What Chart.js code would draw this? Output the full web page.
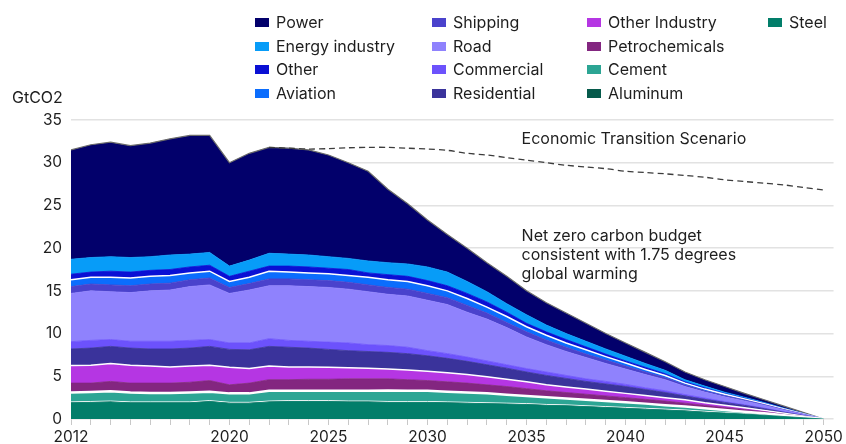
<!DOCTYPE html>
<html>
<head>
<meta charset="utf-8">
<title>Emissions by sector</title>
<script src="https://cdn.jsdelivr.net/npm/chart.js@4.4.1/dist/chart.umd.min.js"></script>
<style>
  body { margin: 0; background: #fff; font-family: Inter, "Open Sans", sans-serif; color: #1e1e1e; }
  #wrap { position: relative; width: 846px; height: 444px; overflow: hidden; }
  #chart { position: absolute; left: 0; top: 0; }
  .unit { position: absolute; left: 12px; top: 87px; font-size: 16px; }
  .legend-item { position: absolute; display: flex; align-items: center; height: 20px; font-size: 16px; white-space: nowrap; }
  .legend-item i { display: inline-block; width: 14px; height: 9px; margin-right: 7px; }
</style>
</head>
<body>
<div id="wrap">
  <canvas id="chart" width="846" height="444"></canvas>
  <div class="unit">GtCO2</div>
  <div id="legend"></div>
</div>
<script>
"use strict";

// ── Data (GtCO2, net zero pathway by sector) ──
const years = [2012, 2013, 2014, 2015, 2016, 2017, 2018, 2019, 2020, 2021,
               2022, 2023, 2024, 2025, 2026, 2027, 2028, 2029, 2030, 2031,
               2032, 2033, 2034, 2035, 2036, 2037, 2038, 2039, 2040, 2041,
               2042, 2043, 2044, 2045, 2046, 2047, 2048, 2049, 2050];
const labelYears = [2012, 2020, 2025, 2030, 2035, 2040, 2045, 2050];

const steel = [1.9, 1.95, 2.0, 1.9, 1.9, 1.9, 1.9, 2.05, 1.85, 1.85,
               2.0, 2.05, 2.05, 2.05, 2.0, 2.0, 1.95, 1.95, 1.95, 1.9,
               1.85, 1.8, 1.75, 1.7, 1.6, 1.55, 1.45, 1.35, 1.25, 1.15,
               1.05, 0.95, 0.8, 0.7, 0.58, 0.44, 0.29, 0.14, 0];
const aluminum = [0.1, 0.1, 0.1, 0.1, 0.1, 0.1, 0.1, 0.1, 0.1, 0.1,
                  0.1, 0.1, 0.1, 0.1, 0.1, 0.1, 0.1, 0.1, 0.1, 0.1,
                  0.1, 0.1, 0.1, 0.1, 0.1, 0.1, 0.1, 0.1, 0.1, 0.1,
                  0.1, 0.1, 0.1, 0.07, 0.06, 0.05, 0.03, 0.02, 0];
const cement = [1.1, 1.1, 1.15, 1.1, 1.05, 1.05, 1.1, 1.05, 1.05, 1.05,
                1.2, 1.15, 1.15, 1.15, 1.2, 1.2, 1.3, 1.25, 1.25, 1.2,
                1.15, 1.1, 1.0, 0.9, 0.85, 0.75, 0.7, 0.65, 0.6, 0.55,
                0.45, 0.4, 0.35, 0.27, 0.22, 0.17, 0.11, 0.06, 0];
const petrochemicals = [1.1, 1.05, 1.15, 1.1, 1.15, 1.15, 1.2, 1.3, 1.0, 1.2,
                        1.3, 1.3, 1.35, 1.35, 1.4, 1.4, 1.35, 1.3, 1.2, 1.15,
                        1.1, 1.0, 0.95, 0.85, 0.75, 0.7, 0.65, 0.6, 0.55, 0.5,
                        0.5, 0.4, 0.35, 0.3, 0.24, 0.18, 0.12, 0.06, 0];
const otherIndustry = [2.05, 2.1, 2.1, 2.1, 2.0, 1.9, 1.9, 1.8, 2.05, 1.7,
                       1.6, 1.5, 1.45, 1.4, 1.3, 1.25, 1.15, 1.15, 1.1, 1.05,
                       1.0, 0.95, 0.85, 0.8, 0.7, 0.65, 0.6, 0.55, 0.5, 0.45,
                       0.4, 0.4, 0.3, 0.27, 0.22, 0.17, 0.11, 0.05, 0];
const residential = [1.95, 2.0, 2.0, 2.0, 2.0, 2.1, 2.1, 2.2, 2.1, 2.2,
                     2.3, 2.3, 2.2, 2.1, 2.0, 1.95, 1.95, 1.9, 1.8, 1.7,
                     1.55, 1.4, 1.3, 1.15, 1.1, 1.0, 0.9, 0.85, 0.8, 0.7,
                     0.6, 0.45, 0.4, 0.33, 0.27, 0.2, 0.13, 0.07, 0];
const commercial = [0.85, 0.9, 0.8, 0.8, 0.9, 0.9, 0.9, 0.8, 0.75, 0.8,
                    0.9, 0.8, 0.8, 0.85, 0.9, 0.8, 0.8, 0.75, 0.6, 0.55,
                    0.5, 0.45, 0.4, 0.4, 0.4, 0.35, 0.3, 0.3, 0.25, 0.2,
                    0.2, 0.15, 0.15, 0.1, 0.08, 0.06, 0.04, 0.02, 0];
const road = [5.65, 5.8, 5.6, 5.7, 5.9, 6.0, 6.3, 6.4, 5.8, 6.2,
              6.2, 6.4, 6.4, 6.4, 6.3, 6.2, 6.0, 6.0, 5.9, 5.75,
              5.25, 4.9, 4.35, 3.7, 3.2, 2.8, 2.5, 2.1, 1.8, 1.55,
              1.3, 0.95, 0.7, 0.55, 0.44, 0.33, 0.22, 0.11, 0];
const shipping = [0.8, 0.8, 0.8, 0.8, 0.8, 0.8, 0.8, 0.8, 0.7, 0.75,
                  0.8, 0.8, 0.8, 0.8, 0.8, 0.8, 0.8, 0.8, 0.8, 0.8,
                  0.8, 0.7, 0.6, 0.6, 0.55, 0.5, 0.4, 0.4, 0.35, 0.3,
                  0.25, 0.2, 0.15, 0.15, 0.12, 0.09, 0.06, 0.03, 0];
const aviation = [0.8, 0.8, 0.9, 0.9, 0.9, 0.9, 0.8, 0.8, 0.7, 0.75,
                  0.9, 0.8, 0.8, 0.8, 0.8, 0.9, 0.9, 0.9, 0.9, 0.8,
                  0.8, 0.7, 0.7, 0.6, 0.55, 0.5, 0.5, 0.4, 0.35, 0.3,
                  0.25, 0.2, 0.2, 0.15, 0.12, 0.09, 0.06, 0.03, 0];
const other = [0.65, 0.6, 0.7, 0.7, 0.7, 0.7, 0.7, 0.7, 0.6, 0.7,
               0.6, 0.7, 0.7, 0.65, 0.7, 0.5, 0.6, 0.6, 0.6, 0.6,
               0.6, 0.6, 0.5, 0.4, 0.4, 0.4, 0.35, 0.3, 0.25, 0.25,
               0.2, 0.15, 0.15, 0.1, 0.08, 0.06, 0.04, 0.02, 0];
const energyIndustry = [1.75, 1.7, 1.7, 1.7, 1.6, 1.7, 1.5, 1.5, 1.2, 1.3,
                        1.5, 1.4, 1.4, 1.35, 1.3, 1.4, 1.4, 1.45, 1.6, 1.6,
                        1.4, 1.2, 1.0, 1.0, 0.8, 0.7, 0.65, 0.6, 0.55, 0.45,
                        0.4, 0.25, 0.2, 0.15, 0.12, 0.09, 0.06, 0.03, 0];
const power = [12.8, 13.2, 13.4, 13.1, 13.3, 13.6, 13.9, 13.7, 12.1, 12.5,
               12.4, 12.4, 12.3, 11.9, 11.2, 10.5, 8.6, 7.05, 5.5, 4.4,
               3.9, 3.4, 3.2, 2.8, 2.6, 2.4, 2.1, 1.8, 1.55, 1.3,
               1.0, 0.9, 0.75, 0.66, 0.45, 0.32, 0.23, 0.11, 0];
// Economic Transition Scenario total (dashed)
const etsTotal = [null, null, null, null, null, null, null, null, null, null,
                  31.8, 31.7, 31.6, 31.65, 31.75, 31.8, 31.8, 31.7, 31.6, 31.45,
                  31.1, 30.9, 30.6, 30.3, 30.0, 29.7, 29.5, 29.3, 29.0, 28.85,
                  28.7, 28.5, 28.3, 28.0, 27.8, 27.6, 27.4, 27.1, 26.8];

// stacking order, bottom to top
const sectors = [
  ["Steel", steel], ["Aluminum", aluminum], ["Cement", cement],
  ["Petrochemicals", petrochemicals], ["Other Industry", otherIndustry],
  ["Residential", residential], ["Commercial", commercial], ["Road", road],
  ["Shipping", shipping], ["Aviation", aviation], ["Other", other],
  ["Energy industry", energyIndustry], ["Power", power],
];

const legendColumns = [
  ["Power", "Energy industry", "Other", "Aviation"],
  ["Shipping", "Road", "Commercial", "Residential"],
  ["Other Industry", "Petrochemicals", "Cement", "Aluminum"],
  ["Steel"],
];

// ── Styles ──
const colors = {
  "Power":           "#02006b",
  "Energy industry": "#079cf8",
  "Other":           "#0a10d4",
  "Aviation":        "#0b6dfd",
  "Shipping":        "#4a42cc",
  "Road":            "#8f82fd",
  "Commercial":      "#6c52fc",
  "Residential":     "#3a339b",
  "Other Industry":  "#b536e3",
  "Petrochemicals":  "#832680",
  "Cement":          "#2ca594",
  "Aluminum":        "#065a4b",
  "Steel":           "#027e6a",
};
// white separators drawn along the top edge of some layers
const edges = {
  "Aluminum":       { color: "#ffffff", width: 1 },
  "Cement":         { color: "#ffffff", width: 2.5 },
  "Other Industry": { color: "#ffffff", width: 1.5 },
  "Aviation":       { color: "#ffffff", width: 1.5 },
  "Power":          { color: "#6a6a6a", width: 1.2 },
};
const legendX = [255, 432, 587, 768];
const legendY = [22, 46, 69, 93];

const notes = [
  { year: 2034.75, value: 32.7, lines: ["Economic Transition Scenario"] },
  { year: 2034.75, value: 21.4, lines: ["Net zero carbon budget", "consistent with 1.75 degrees", "global warming"] },
];

// ── Legend ──
function buildLegend() {
  const host = document.getElementById("legend");
  legendColumns.forEach((col, c) => {
    col.forEach((name, r) => {
      const el = document.createElement("div");
      el.className = "legend-item";
      el.style.left = `${legendX[c]}px`;
      el.style.top  = `${legendY[r] - 10}px`;
      el.innerHTML  = `<i style="background:${colors[name]}"></i>${name}`;
      host.appendChild(el);
    });
  });
}

// ── Annotations ──
const notesPlugin = {
  id: "notes",
  afterDraw(chart) {
    const { ctx, scales: { x, y } } = chart;
    ctx.save();
    ctx.font = "16px Inter, sans-serif";
    ctx.fillStyle = "#1e1e1e";
    ctx.textBaseline = "middle";
    notes.forEach(n => {
      const px = x.getPixelForValue(n.year);
      const py = y.getPixelForValue(n.value);
      n.lines.forEach((t, i) => ctx.fillText(t, px, py + i * 19));
    });
    ctx.restore();
  },
};

// ── Chart ──
function buildChart() {
  const datasets = sectors.map(([name, data], i) => ({
    label: name,
    data,
    backgroundColor: colors[name],
    borderColor: edges[name] ? edges[name].color : colors[name],
    borderWidth: edges[name] ? edges[name].width : 0.8,
    fill: i === 0 ? "origin" : "-1",
    pointRadius: 0,
    tension: 0,
  }));
  datasets.push({
    label: "Economic Transition Scenario",
    data: etsTotal,
    stack: "ets",
    order: -1,
    fill: false,
    borderColor: "#3c3c3c",
    borderWidth: 1.3,
    borderDash: [6, 4],
    pointRadius: 0,
    tension: 0.3,
  });

  Chart.defaults.font.family = "Inter, sans-serif";
  Chart.defaults.color = "#1e1e1e";

  new Chart(document.getElementById("chart"), {
    type: "line",
    data: { labels: years, datasets },
    options: {
      responsive: false,
      animation: false,
      layout: { padding: { top: 120, right: 10, left: 0, bottom: 0 } },
      plugins: { legend: { display: false }, tooltip: { enabled: false } },
      scales: {
        x: {
          type: "linear",
          min: 2012,
          max: 2050.5,
          afterBuildTicks: s => { s.ticks = years.map(v => ({ value: v })); },
          afterFit: s => { s.height = 25; },
          ticks: {
            autoSkip: false,
            maxRotation: 0,
            padding: 3,
            font: { size: 15.5 },
            callback: v => labelYears.includes(v) ? String(v) : "",
          },
          grid: { drawOnChartArea: false, tickLength: 6, color: "#c8c8c8" },
          border: { display: false },
        },
        y: {
          stacked: true,
          min: 0,
          max: 35,
          afterFit: s => { s.width = 71; },
          ticks: { stepSize: 5, padding: 9, font: { size: 15.5 } },
          grid: { color: "#e2e2e2", lineWidth: 1.5, drawTicks: false },
          border: { display: false },
        },
      },
    },
    plugins: [notesPlugin],
  });
}

document.addEventListener("DOMContentLoaded", () => {
  buildLegend();
  buildChart();
});
</script>
</body>
</html>
